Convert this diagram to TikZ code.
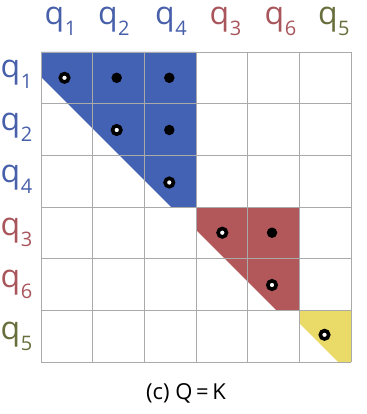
\documentclass[tikz,border=0pt]{standalone}
\usepackage{fontspec}
\setmainfont{Open Sans}
\definecolor{fblue}{RGB}{68,98,180}
\definecolor{fred}{RGB}{178,88,90}
\definecolor{fyel}{RGB}{234,218,104}
\definecolor{lblue}{RGB}{72,96,170}
\definecolor{lred}{RGB}{168,86,92}
\definecolor{lolive}{RGB}{104,110,60}
\definecolor{gridgray}{RGB}{170,170,170}
\newcommand{\qsub}[1]{{\fontsize{32}{32}\selectfont q\hspace{0.5pt}\raisebox{-11pt}{\fontsize{20}{20}\selectfont #1}}}
\tikzset{
  gridline/.style={draw=gridgray, line width=0.8pt},
  ringdot/.style={circle, draw=black, fill=white, line width=3.6pt, minimum size=8.4pt, inner sep=0pt},
  fulldot/.style={circle, fill=black, minimum size=10.5pt, inner sep=0pt},
  toplab/.style={anchor=base west, inner sep=0pt},
  leftlab/.style={anchor=base west, inner sep=0pt},
}
\begin{document}
\begin{tikzpicture}[x=1pt,y=-1pt]
\useasboundingbox (0,0) rectangle (366,414);
% fills
\fill[fblue] (41,52) -- (196,52) -- (196,207) -- (171,207) -- (41,77) -- cycle;
\fill[fred] (196,207) -- (299.33,207) -- (299.33,310.33) -- (276.33,310.33) -- (196,230) -- cycle;
\fill[fyel] (299.33,310.33) -- (351,310.33) -- (351,362) -- (338,362) -- (299.33,323.33) -- cycle;
% grid
\foreach \i in {0,...,6} {
  \draw[gridline] (41+\i*51.6667,52) -- (41+\i*51.6667,362);
  \draw[gridline] (41,52+\i*51.6667) -- (351,52+\i*51.6667);
}
% dots
\node[ringdot] (d11) at (64.5,77.8) {};
\node[fulldot] (d12) at (116.7,77.8) {};
\node[fulldot] (d13) at (169.3,77.8) {};
\node[ringdot] (d22) at (116.7,130) {};
\node[fulldot] (d23) at (169.3,130) {};
\node[ringdot] (d33) at (169.3,182.5) {};
\node[ringdot] (d44) at (222.3,232.7) {};
\node[fulldot] (d45) at (272,232.7) {};
\node[ringdot] (d55) at (272,285) {};
\node[ringdot] (d66) at (324.5,334.8) {};
% top labels
\node[toplab, text=lblue] (t1) at (44.5,25) {\qsub{1}};
\node[toplab, text=lblue] (t2) at (97.8,25) {\qsub{2}};
\node[toplab, text=lblue] (t4) at (155,25) {\qsub{4}};
\node[toplab, text=lred] (t3) at (209.5,25) {\qsub{3}};
\node[toplab, text=lred] (t6) at (264.5,25) {\qsub{6}};
\node[toplab, text=lolive] (t5) at (317.8,25) {\qsub{5}};
% left labels
\node[leftlab, text=lblue] (l1) at (0.5,78) {\qsub{1}};
\node[leftlab, text=lblue] (l2) at (0.5,130.5) {\qsub{2}};
\node[leftlab, text=lblue] (l4) at (0.5,182.5) {\qsub{4}};
\node[leftlab, text=lred] (l3) at (0.5,235) {\qsub{3}};
\node[leftlab, text=lred] (l6) at (0.5,287.5) {\qsub{6}};
\node[leftlab, text=lolive] (l5) at (0.5,339) {\qsub{5}};
% caption
\node[anchor=base, inner sep=0pt] (cap) at (186,399) {\fontsize{22}{22}\selectfont (c) Q\,=\,K};
\end{tikzpicture}
\end{document}
